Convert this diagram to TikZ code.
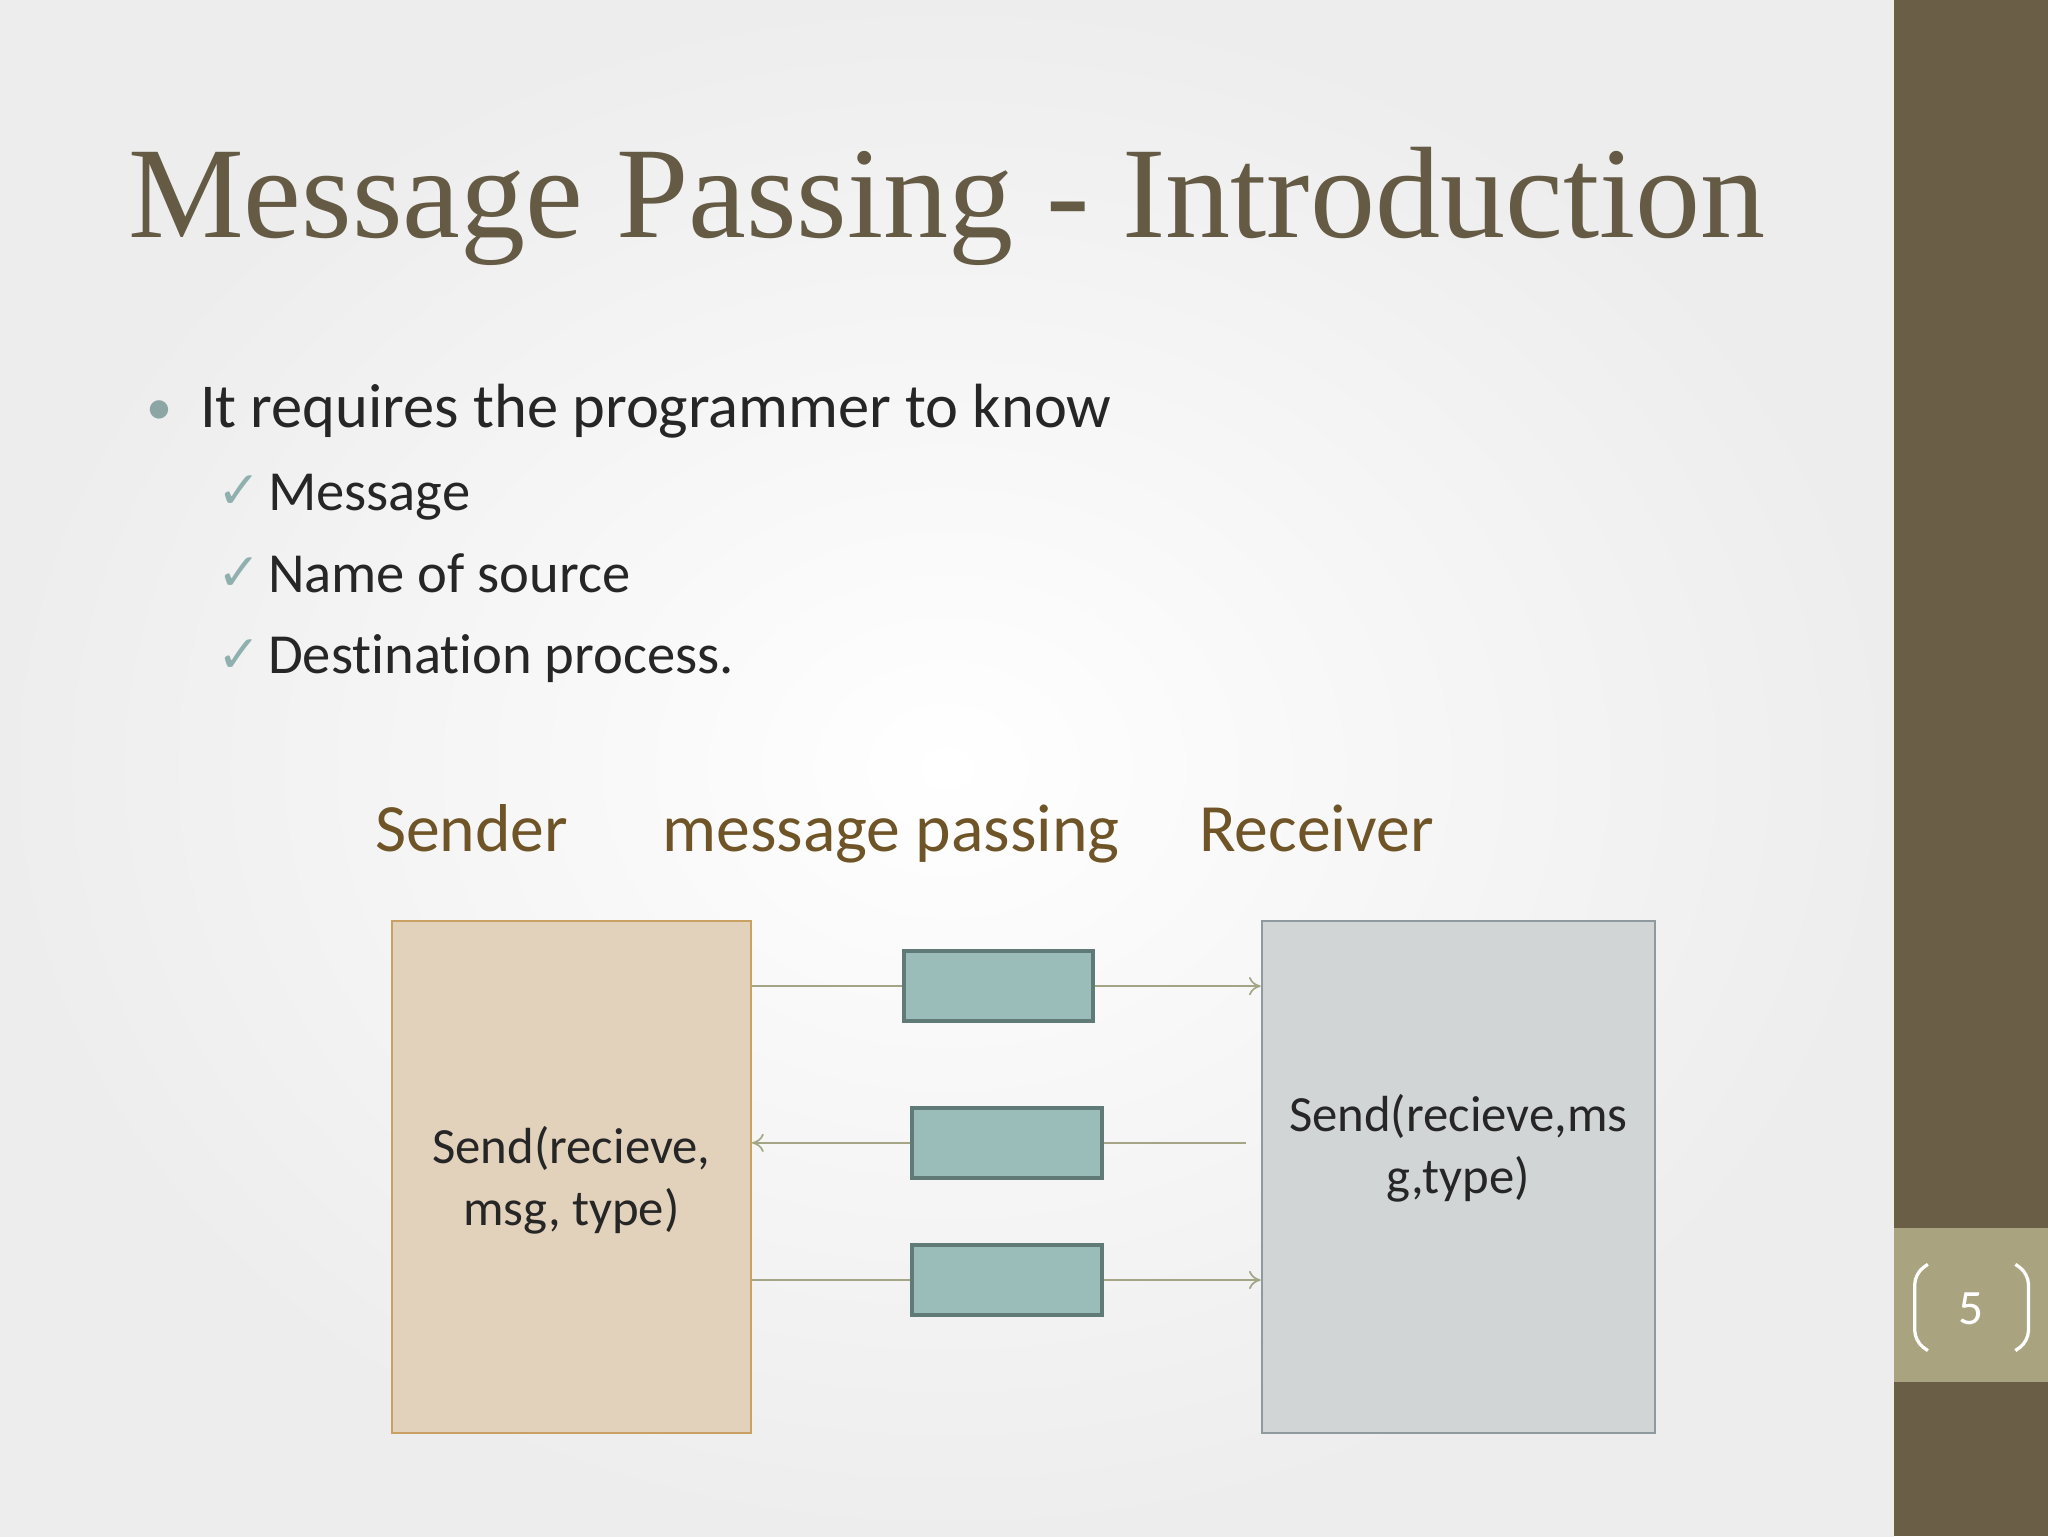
\documentclass[tikz,border=0pt]{standalone}
\usepackage{fontspec}
\setmainfont[RawFeature=-liga]{Carlito}
\newfontfamily\titlefont{Liberation Serif}
\usetikzlibrary{arrows.meta}
\definecolor{barbrown}{HTML}{6B5E46}
\definecolor{pagebox}{HTML}{A9A47F}
\definecolor{titlec}{HTML}{655B45}
\definecolor{headc}{HTML}{6E5426}
\definecolor{checkc}{HTML}{8FB0AE}
\definecolor{sendfill}{HTML}{E2D1BB}
\definecolor{senddraw}{HTML}{C9A263}
\definecolor{recfill}{HTML}{D1D5D5}
\definecolor{recdraw}{HTML}{8E9A9E}
\definecolor{msgfill}{HTML}{9BBDBA}
\definecolor{msgdraw}{HTML}{607A78}
\definecolor{linec}{HTML}{A3A585}
\begin{document}
\begin{tikzpicture}[x=1bp,y=-1bp,
  msg/.style={draw=msgdraw,fill=msgfill,line width=3bp,minimum width=145bp,minimum height=54bp,inner sep=0pt},
  conn/.style={draw=linec,line width=1.3bp},
  arr/.style={conn,-{To[length=9bp,width=14bp]}},
  head/.style={text=headc,font=\fontsize{52}{56}\selectfont,anchor=base west},
  chk/.style={text=checkc,font=\fontsize{40}{44}\selectfont\fontspec{DejaVu Sans},anchor=base west},
  item/.style={text=black!85,font=\fontsize{43.5}{48}\selectfont,anchor=base west}]
\useasboundingbox (0,0) rectangle (1568,1176);
\shade[inner color=white,outer color=black!7] (0,0) rectangle (1450,1176);
\fill[barbrown] (1450,0) rectangle (1568,1176);
\fill[pagebox] (1450,940) rectangle (1568,1058);
\draw[white,line width=2.5bp,rounded corners=8bp] (1476,968) -- (1466,975) -- (1466,1027) -- (1476,1034);
\draw[white,line width=2.5bp,rounded corners=8bp] (1543,968) -- (1553,975) -- (1553,1027) -- (1543,1034);
\node[text=white,font=\fontsize{38}{40}\selectfont] (pn) at (1509,1002) {5};
\node[titlec,font=\fontsize{100}{110}\selectfont\titlefont,anchor=base west,inner sep=0] (title) at (98,182) {Message Passing - Introduction};
\node[text=checkc!80!gray,font=\fontsize{40}{44}\selectfont,anchor=base west,inner sep=0] (bul) at (112,325) {•};
\node[text=black!85,font=\fontsize{48}{52}\selectfont,anchor=base west,inner sep=0] (l1) at (153,327) {It requires the programmer to know};
\node[chk,inner sep=0] (c1) at (166,389) {✓};
\node[item,inner sep=0] (t1) at (205,391) {Message};
\node[chk,inner sep=0] (c2) at (166,452) {✓};
\node[item,inner sep=0] (t2) at (205,454) {Name of source};
\node[chk,inner sep=0] (c3) at (166,515) {✓};
\node[item,inner sep=0] (t3) at (205,516) {Destination process.};
\node[head,inner sep=0] (h1) at (287,652) {Sender};
\node[head,inner sep=0] (h2) at (507,652) {message passing};
\node[head,inner sep=0] (h3) at (918,652) {Receiver};
\node[draw=senddraw,fill=sendfill,line width=1.5bp,minimum width=275bp,minimum height=392bp,inner sep=0,
  align=center,font=\fontsize{39}{48}\selectfont,text=black!85] (snd) at (437.5,901) {\strut Send(recieve,\\ msg, type)};
\node[draw=recdraw,fill=recfill,line width=1.5bp,minimum width=301bp,minimum height=392bp,inner sep=0] (rec) at (1116.5,901) {};
\node[align=center,font=\fontsize{39}{48}\selectfont,text=black!85] (rect) at (1116.5,879) {Send(recieve,ms\\g,type)};
\node[msg] (m1) at (764.5,755) {};
\node[msg] (m2) at (771,875) {};
\node[msg] (m3) at (771,980) {};
\coordinate (r2) at (954,875);
\draw[conn] (snd.east |- m1) -- (m1.west);
\draw[arr] (m1.east) -- (rec.west |- m1);
\draw[conn] (r2) -- (m2.east);
\draw[arr] (m2.west) -- (snd.east |- m2);
\draw[conn] (snd.east |- m3) -- (m3.west);
\draw[arr] (m3.east) -- (rec.west |- m3);
\end{tikzpicture}
\end{document}
